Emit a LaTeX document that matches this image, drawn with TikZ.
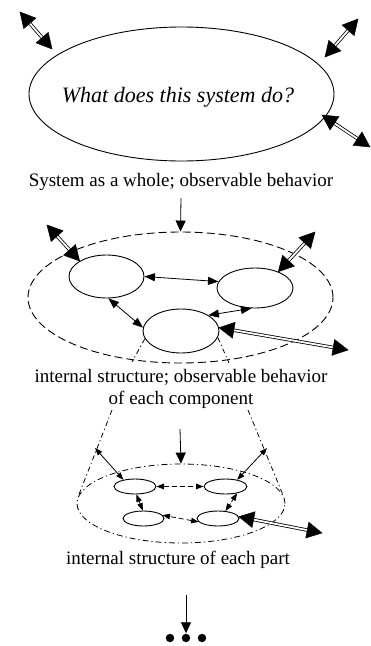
\documentclass[tikz,border=0pt]{standalone}
\usepackage{fontspec}
\setmainfont{Liberation Serif}
\usetikzlibrary{shapes.geometric,arrows.meta,calc}
\tikzset{
  ell/.style={ellipse, draw, line width=0.9pt, inner sep=0pt},
  lab/.style={font=\fontsize{19}{22.5}\selectfont, inner sep=0pt, align=center},
  tipA/.tip={Triangle[length=10.5pt,width=8pt]},
  tipB/.tip={Triangle[length=7.5pt,width=5.5pt]},
  tipD/.tip={Triangle[length=11pt,width=10pt]},
  thin arr/.style={line width=0.8pt, tipA-tipA},
  small arr/.style={line width=0.8pt, tipB-tipB},
  down arr/.style={line width=0.8pt, -tipD},
  dbl shaft/.style={double, double distance=1.8pt, line width=0.8pt, shorten <=13pt, shorten >=13pt},
  big head/.style={fill=black, draw=black, line width=0.5pt, line join=miter},
  dashdot/.style={line width=0.8pt, dash pattern=on 6pt off 3pt on 1.2pt off 3pt},
  cone/.style={line width=0.8pt, dash pattern=on 5pt off 3pt on 1.2pt off 3pt}
}
\newcommand\dblarrow[2]{%
  \draw[dbl shaft] (#1) -- (#2);
  \filldraw[big head] (#1) -- ($(#1)!15pt!(#2)!8pt!90:(#2)$) -- ($(#1)!15pt!(#2)!8pt!-90:(#2)$) -- cycle;
  \filldraw[big head] (#2) -- ($(#2)!15pt!(#1)!8pt!90:(#1)$) -- ($(#2)!15pt!(#1)!8pt!-90:(#1)$) -- cycle;
}
\begin{document}
\begin{tikzpicture}[x=1pt,y=-1pt]
\useasboundingbox (0,0) rectangle (371,646);
% top level
\node[ell, minimum width=305pt, minimum height=134pt] (T) at (181.5,94) {};
\node[font=\fontsize{22}{26}\selectfont\itshape, inner sep=0pt] (Tq) at (178,97) {What does this system do?};
\coordinate (t1a) at (20,12);  \coordinate (t1b) at (52,49);
\coordinate (t2a) at (358,19); \coordinate (t2b) at (325,57);
\coordinate (t3a) at (322,115); \coordinate (t3b) at (370,147);
\dblarrow{t1a}{t1b}
\dblarrow{t2a}{t2b}
\dblarrow{t3a}{t3b}
\node[lab] (L1) at (181,182) {System as a whole; observable behavior};
% middle level
\node[ell, dashed, dash pattern=on 8pt off 4pt, minimum width=305pt, minimum height=131pt] (M) at (180.5,297.5) {};
\node[ell, minimum width=75pt, minimum height=43pt] (A) at (106.5,276.5) {};
\node[ell, minimum width=76pt, minimum height=40pt] (B) at (255,288) {};
\node[ell, minimum width=76pt, minimum height=44pt] (C) at (181,331) {};
\draw[down arr] ([yshift=-7pt]L1.south) -- (M.north);
\draw[thin arr] (A.east) -- (B.170);
\draw[thin arr] (A.-85) -- (C.175);
\draw[thin arr] (B.-100) -- (C.30);
\coordinate (a1) at (47,225);
\coordinate (b1) at (315,232);
\coordinate (c1) at (348,350);
\dblarrow{a1}{A.150}
\dblarrow{b1}{B.35}
\dblarrow{C.5}{c1}
\coordinate (cl1) at (132,362);
\coordinate (cr1) at (229,363);
\draw[cone] (C.192) -- (cl1);
\draw[cone] (C.-10) -- (cr1);
\node[lab] (L2) at (181,389) {internal structure; observable behavior\\of each component};
% lower level
\coordinate (cl2) at (112,410); \coordinate (cl3) at (78,497);
\coordinate (cr2) at (248,410); \coordinate (cr3) at (283,495);
\draw[cone] (cl2) -- (cl3);
\draw[cone] (cr2) -- (cr3);
\node[ell, dashdot, minimum width=208pt, minimum height=79pt] (LE) at (181,503.5) {};
\node[ell, minimum width=42pt, minimum height=15pt] (D) at (135,486.5) {};
\node[ell, minimum width=43pt, minimum height=15pt] (E) at (225.5,486.5) {};
\node[ell, minimum width=41pt, minimum height=15pt] (F) at (143.5,518.5) {};
\node[ell, minimum width=42pt, minimum height=15pt] (G) at (218,518.5) {};
\draw[down arr] (180,429) -- (LE.north);
\coordinate (p1) at (95,448);
\coordinate (p2) at (267,448);
\draw[small arr] (p1) -- (D.150);
\draw[small arr] (p2) -- (E.30);
\draw[small arr, line width=1.5pt, dash pattern=on 5pt off 3pt] (D.east) -- (E.west);
\draw[small arr, dash pattern=on 3pt off 2pt] (D.-80) -- (F.95);
\draw[small arr, dash pattern=on 3pt off 2pt] (E.-30) -- (G.45);
\draw[small arr, dash pattern=on 5pt off 3pt] (G.190) -- (F.10);
\coordinate (g1) at (322,533);
\dblarrow{G.5}{g1}
\node[lab] (L3) at (178,560) {internal structure of each part};
% continuation
\node[inner sep=0pt, minimum width=40pt, minimum height=9pt] (dots) at (186,638) {};
\fill (170,638) circle (4.2pt) (186,638) circle (4.2pt) (202,638) circle (4.2pt);
\coordinate (d0) at (186,595);
\draw[down arr] (d0) -- (dots.north);
\end{tikzpicture}
\end{document}
